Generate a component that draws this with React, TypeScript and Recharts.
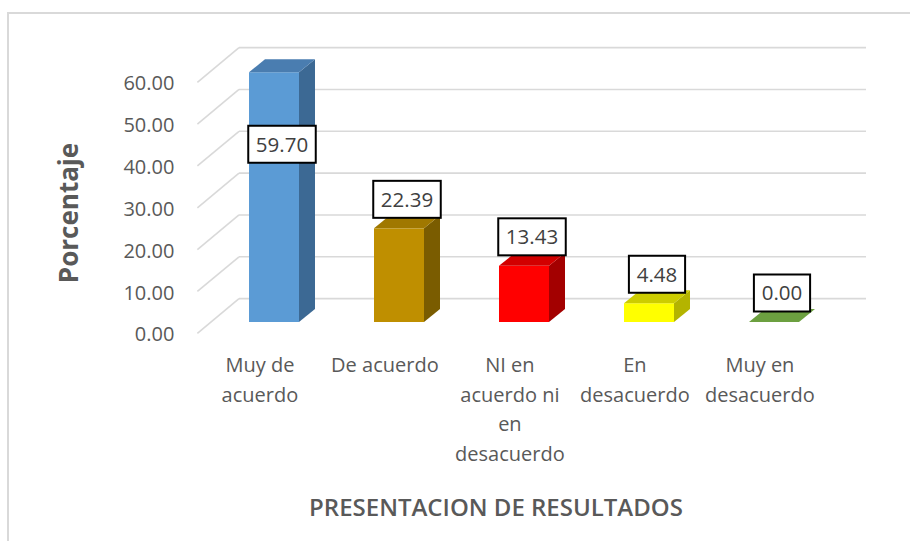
import React from 'react';
import { BarChart, Bar, XAxis, YAxis, CartesianGrid, LabelList, Label, Cell } from 'recharts';

// ---- data ----
const categories = [
  'Muy de\nacuerdo',
  'De acuerdo',
  'NI en\nacuerdo ni\nen\ndesacuerdo',
  'En\ndesacuerdo',
  'Muy en\ndesacuerdo',
];
const percentages = [59.7, 22.39, 13.43, 4.48, 0.0];
const yTicks = [0, 10, 20, 30, 40, 50, 60];
const yTitle = 'Porcentaje';
const xTitle = 'PRESENTACION DE RESULTADOS';

const data = categories.map((name, i) => ({ name, value: percentages[i] }));

// ---- styles ----
const FRONT = ['#5B9BD5', '#BF8F00', '#FF0000', '#FFFF00', '#70AD47'];
const TOP = ['#4A7DB0', '#A07800', '#D20000', '#CDCD00', '#6CA040'];
const SIDE = ['#3C6994', '#7A5C00', '#A30000', '#B4B400', '#557F35'];

const W = 910;
const H = 541;
const MARGIN = { top: 71, right: 74, bottom: 69, left: 151 };
const DX = 16; // bar depth
const DY = 13;
const BACK_DX = 28;
const BACK_DY = 23.4;
const FRONT_DX = 13.6;
const FRONT_DY = 11.3;
const GRID = '#D9D9D9';
const TEXT = '#595959';
const FONT = "'Open Sans', sans-serif";

const Bar3D = (props: any) => {
  const { x, y, width, height, index } = props;
  const i = index ?? 0;
  const h = Math.max(0, height || 0);
  return (
    <g>
      {h > 0 && <rect x={x} y={y} width={width} height={h} fill={FRONT[i]} />}
      {h > 0 && (
        <polygon
          points={`${x + width},${y} ${x + width + DX},${y - DY} ${x + width + DX},${y + h - DY} ${x + width},${y + h}`}
          fill={SIDE[i]}
        />
      )}
      <polygon
        points={`${x},${y} ${x + DX},${y - DY} ${x + width + DX},${y - DY} ${x + width},${y}`}
        fill={TOP[i]}
      />
    </g>
  );
};

const gridLine = (p: any) => {
  const { x1, x2, y1, index } = p;
  return (
    <g key={`grid-${index}-${y1}`}>
      <line x1={x1 + BACK_DX} y1={y1 - BACK_DY} x2={x2 + BACK_DX + 2} y2={y1 - BACK_DY} stroke={GRID} strokeWidth={1.6} />
      <line x1={x1 - FRONT_DX} y1={y1 + FRONT_DY} x2={x1 + BACK_DX} y2={y1 - BACK_DY} stroke={GRID} strokeWidth={1.6} />
    </g>
  );
};

const YTick = (props: any) => {
  const { x, y, payload } = props;
  return (
    <text
      x={x - FRONT_DX - 21}
      y={y + FRONT_DY + 1}
      dy="0.355em"
      textAnchor="end"
      fill={TEXT}
      fontSize={20}
      fontWeight={500}
      fontFamily={FONT}
    >
      {Number(payload.value).toFixed(2)}
    </text>
  );
};

const XTick = (props: any) => {
  const { x, y, payload } = props;
  const lines = String(payload.value).split('\n');
  const cx = x - FRONT_DX;
  return (
    <text x={cx} y={y + 48} textAnchor="middle" fill={TEXT} fontSize={20} fontWeight={500} fontFamily={FONT}>
      {lines.map((l, i) => (
        <tspan key={i} x={cx} dy={i === 0 ? 0 : 29.7}>
          {l}
        </tspan>
      ))}
    </text>
  );
};

const ValueLabel = (props: any) => {
  const vb = props.viewBox || {};
  const x = props.x ?? vb.x;
  const y = props.y ?? vb.y;
  const width = props.width ?? vb.width;
  const txt = Number(props.value).toFixed(2);
  const bw = txt.length * 11.3 + 11;
  const bh = 37;
  const cx = x + width / 2 + 8;
  let cy = y - 29;
  if (cy - bh / 2 < MARGIN.top) cy = y + 72;
  return (
    <g>
      <rect x={cx - bw / 2} y={cy - bh / 2} width={bw} height={bh} fill="#FFFFFF" stroke="#000000" strokeWidth={2} />
      <text x={cx} y={cy} dy="0.355em" textAnchor="middle" fontSize={20.5} fontWeight={500} fill="#404040" fontFamily={FONT}>
        {txt}
      </text>
    </g>
  );
};

export default function App() {
  return (
    <div style={{ position: 'absolute', left: 0, top: 0, width: W, height: H, overflow: 'hidden', background: '#FFFFFF' }}>
      <div
        style={{
          position: 'absolute',
          left: 7,
          top: 12,
          width: W + 20,
          height: H + 20,
          borderTop: `2px solid ${GRID}`,
          borderLeft: `2px solid ${GRID}`,
        }}
      />
      <div style={{ position: 'absolute', left: 0, top: 0 }}>
        <BarChart width={W} height={H} data={data} margin={MARGIN} barSize={50}>
          <CartesianGrid horizontal={gridLine} vertical={false} />
          <XAxis
            dataKey="name"
            interval={0}
            tickSize={0}
            tickLine={false}
            axisLine={false}
            height={150}
            tick={<XTick />}
          >
            <Label
              content={() => (
                <text x={496} y={516} textAnchor="middle" fill={TEXT} fontSize={24} fontWeight={600} fontFamily={FONT}>
                  {xTitle}
                </text>
              )}
            />
          </XAxis>
          <YAxis
            domain={[0, 60]}
            ticks={yTicks}
            width={60}
            tickSize={0}
            tickLine={false}
            axisLine={false}
            tick={<YTick />}
          >
            <Label
              content={() => (
                <text
                  transform="translate(69,213) rotate(-90)"
                  textAnchor="middle"
                  dy="0.35em"
                  fill={TEXT}
                  fontSize={26}
                  fontWeight={700}
                  fontFamily={FONT}
                >
                  {yTitle}
                </text>
              )}
            />
          </YAxis>
          <Bar dataKey="value" isAnimationActive={false} shape={<Bar3D />}>
            {data.map((d, i) => (
              <Cell key={i} fill={FRONT[i]} />
            ))}
            <LabelList dataKey="value" content={<ValueLabel />} />
          </Bar>
        </BarChart>
      </div>
    </div>
  );
}
